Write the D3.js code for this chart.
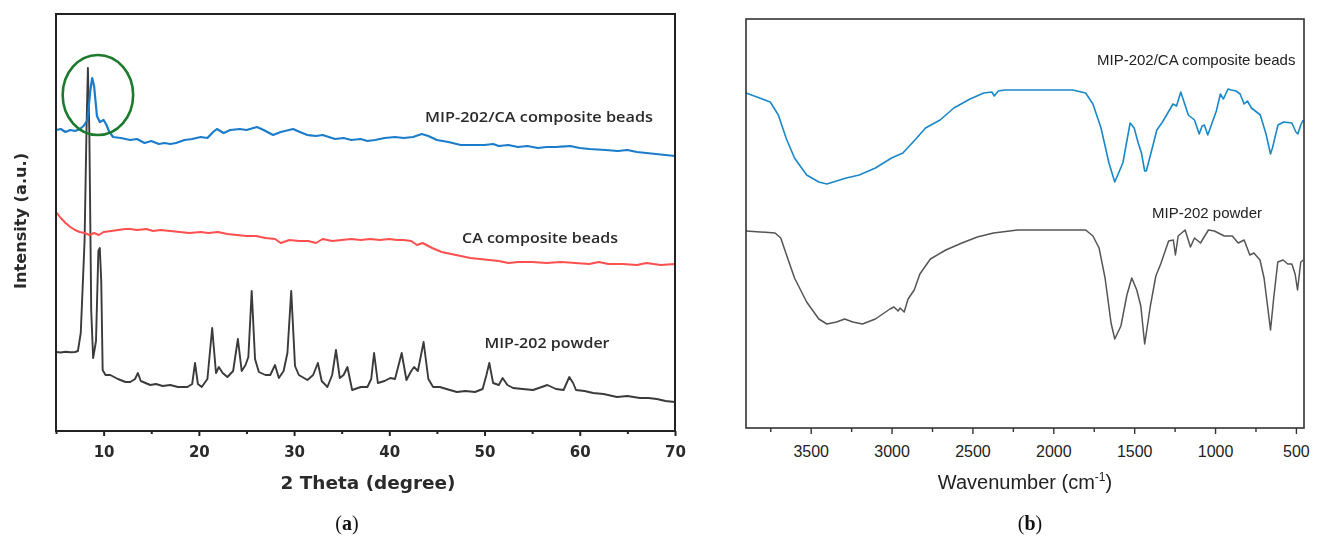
<!DOCTYPE html>
<html>
<head>
<meta charset="utf-8">
<script src="https://cdn.jsdelivr.net/npm/d3@7"></script>
<style>
  html, body { margin: 0; padding: 0; background: #fff; }
  svg { display: block; }
</style>
</head>
<body>
<div id="chart"></div>
<script>
// XRD (a): 2θ in degrees, intensity in arbitrary counts
const xrdComposite = [
  [5.0, 3010], [5.5, 3020], [6.0, 2990], [6.5, 3010], [7.0, 3000], [7.5, 3020], [7.9, 3050],
  [8.3, 3110], [8.6, 3400], [8.8, 3530], [9.0, 3450], [9.3, 3150], [9.6, 3090], [10.0, 3110],
  [10.3, 3060], [10.6, 2990], [11.0, 2940], [11.8, 2930], [12.8, 2910], [13.5, 2920], [14.3, 2880],
  [15.0, 2900], [15.8, 2870], [16.4, 2880], [17.0, 2870], [17.6, 2880], [18.5, 2910], [19.3, 2920],
  [20.2, 2940], [20.9, 2930], [21.5, 2990], [21.9, 3020], [22.6, 2980], [23.3, 3010], [24.3, 3020],
  [25.0, 3010], [26.1, 3040], [26.8, 3010], [27.8, 2960], [28.6, 2990], [29.9, 3020], [30.6, 2990],
  [31.4, 2960], [32.3, 2950], [33.0, 2960], [34.3, 2920], [35.2, 2930], [36.0, 2910], [37.0, 2920],
  [37.7, 2900], [38.5, 2910], [39.5, 2930], [40.6, 2940], [41.5, 2930], [42.5, 2940], [43.4, 2970],
  [44.1, 2950], [45.0, 2910], [46.2, 2890], [47.5, 2860], [49.0, 2860], [50.0, 2860], [50.9, 2870],
  [51.5, 2850], [52.5, 2860], [53.5, 2840], [54.5, 2850], [55.6, 2830], [56.5, 2840], [57.5, 2840],
  [59.0, 2850], [60.0, 2830], [61.0, 2820], [62.7, 2810], [64.0, 2800], [65.0, 2810], [66.0, 2790],
  [67.0, 2780], [68.0, 2770], [69.0, 2760], [70.0, 2750]
]
const xrdBeads = [
  [5.0, 2190], [5.5, 2130], [6.0, 2080], [6.5, 2040], [7.0, 2010], [7.5, 1990], [8.0, 1980],
  [8.5, 1960], [9.0, 1980], [9.5, 1960], [10.0, 1990], [10.8, 2000], [11.5, 2010], [12.3, 2020],
  [12.8, 2020], [13.5, 2010], [14.5, 2020], [15.2, 2000], [16.0, 2010], [17.0, 2000], [18.0, 1990],
  [19.0, 1980], [20.2, 1990], [21.0, 1980], [22.0, 1990], [23.0, 1970], [24.0, 1960], [25.0, 1950],
  [26.0, 1950], [27.0, 1930], [28.0, 1920], [28.6, 1880], [29.5, 1910], [30.5, 1900], [31.5, 1900],
  [32.3, 1880], [33.0, 1920], [34.0, 1900], [35.0, 1910], [36.0, 1920], [37.0, 1910], [38.0, 1920],
  [39.0, 1910], [40.0, 1920], [40.8, 1910], [41.5, 1910], [42.3, 1900], [42.9, 1860], [43.5, 1880],
  [44.5, 1830], [45.5, 1790], [46.5, 1770], [47.5, 1750], [48.5, 1730], [49.5, 1720], [50.5, 1710],
  [51.5, 1700], [52.5, 1680], [53.5, 1690], [55.0, 1690], [56.5, 1680], [58.0, 1690], [59.5, 1680],
  [61.0, 1670], [62.0, 1690], [63.0, 1670], [64.5, 1670], [66.0, 1660], [67.0, 1680], [68.5, 1660],
  [70.0, 1670]
]
const xrdPowder = [
  [5.0, 790], [5.5, 785], [6.0, 792], [6.5, 788], [7.0, 790], [7.3, 800], [7.6, 980], [8.0, 1900],
  [8.2, 3000], [8.35, 3630], [8.5, 3000], [8.7, 1200], [8.9, 730], [9.2, 900], [9.45, 1800],
  [9.6, 1830], [9.75, 1500], [9.9, 610], [10.2, 560], [10.7, 560], [11.5, 520], [12.3, 490],
  [12.8, 490], [13.3, 520], [13.6, 580], [13.9, 500], [14.9, 460], [15.5, 470], [16.2, 450],
  [17.0, 460], [17.8, 440], [18.8, 440], [19.3, 470], [19.6, 680], [19.9, 470], [20.3, 440],
  [20.9, 520], [21.4, 1030], [21.8, 580], [22.1, 640], [22.5, 580], [23.0, 540], [23.6, 600],
  [24.1, 920], [24.5, 600], [24.9, 660], [25.2, 740], [25.55, 1400], [25.9, 720], [26.3, 590],
  [27.0, 560], [27.5, 560], [28.0, 660], [28.4, 530], [28.9, 600], [29.3, 780], [29.7, 1400],
  [30.1, 650], [30.5, 560], [31.4, 510], [32.0, 560], [32.5, 680], [32.9, 500], [33.5, 440],
  [34.0, 560], [34.4, 810], [34.8, 530], [35.2, 560], [35.6, 640], [36.1, 410], [37.0, 440],
  [37.7, 440], [38.1, 520], [38.4, 780], [38.8, 480], [39.5, 500], [40.1, 530], [40.6, 520],
  [41.3, 780], [41.8, 510], [42.3, 600], [42.6, 640], [43.0, 600], [43.6, 890], [44.1, 520],
  [44.6, 440], [45.3, 440], [46.0, 420], [47.1, 390], [48.0, 400], [49.0, 390], [49.8, 420],
  [50.2, 560], [50.5, 680], [50.9, 480], [51.5, 460], [51.9, 530], [52.4, 460], [53.0, 430],
  [54.0, 420], [55.1, 410], [56.0, 440], [56.6, 460], [57.5, 420], [58.3, 410], [58.9, 540],
  [59.3, 480], [59.6, 410], [60.5, 400], [61.4, 380], [62.5, 370], [63.9, 340], [65.0, 350],
  [66.3, 330], [67.2, 330], [68.1, 320], [69.0, 300], [70.0, 290]
]
const xrdMajorTicks = [10, 20, 30, 40, 50, 60, 70]
const xrdMinorTicks = [5, 15, 25, 35, 45, 55, 65]
// zone circled in green (centre and radii in data units)
const xrdCircleCenter = [9.4, 3360]
const xrdCircleRadius = [3.7, 400]

// FTIR (b): wavenumber in cm-1, transmittance in arbitrary units
const ftirComposite = [
  [3900, 335], [3750, 326], [3700, 313], [3650, 289], [3600, 270], [3525, 253], [3450, 246],
  [3400, 244], [3340, 247], [3280, 250], [3200, 253], [3100, 260], [3000, 270], [2930, 275],
  [2850, 289], [2790, 300], [2700, 308], [2615, 320], [2515, 329], [2430, 335], [2380, 336],
  [2365, 332], [2340, 337], [2300, 338], [2100, 338], [1880, 338], [1800, 335], [1755, 324],
  [1705, 300], [1656, 265], [1620, 246], [1570, 265], [1525, 305], [1500, 300], [1475, 285],
  [1455, 275], [1435, 257], [1425, 257], [1385, 282], [1360, 298], [1325, 306], [1260, 324],
  [1238, 322], [1212, 336], [1165, 313], [1127, 308], [1098, 294], [1080, 302], [1066, 303],
  [1045, 293], [992, 317], [967, 334], [948, 329], [920, 339], [900, 338], [870, 337], [845, 334],
  [820, 324], [800, 327], [775, 320], [720, 313], [685, 294], [657, 274], [645, 280], [611, 303],
  [575, 306], [525, 305], [500, 296], [488, 294], [470, 303], [455, 308]
]
const ftirPowder = [
  [3900, 197], [3720, 195], [3685, 190], [3660, 178], [3600, 150], [3525, 126], [3450, 109],
  [3400, 104], [3340, 106], [3290, 109], [3240, 106], [3180, 104], [3100, 109], [3010, 119],
  [2985, 121], [2960, 117], [2947, 120], [2922, 116], [2898, 129], [2860, 138], [2825, 154],
  [2760, 169], [2665, 178], [2565, 185], [2470, 191], [2370, 195], [2220, 198], [1975, 198],
  [1800, 198], [1755, 192], [1717, 180], [1680, 150], [1643, 105], [1620, 89], [1582, 102],
  [1545, 133], [1515, 150], [1484, 138], [1459, 122], [1435, 84], [1400, 122], [1366, 152],
  [1336, 164], [1287, 187], [1258, 188], [1245, 173], [1228, 192], [1185, 198], [1152, 181],
  [1127, 190], [1090, 185], [1041, 198], [1004, 197], [943, 192], [893, 192], [857, 185],
  [820, 188], [785, 173], [760, 175], [722, 168], [697, 150], [670, 115], [657, 98], [638, 129],
  [612, 166], [580, 168], [550, 164], [525, 164], [505, 154], [490, 138], [470, 166], [455, 168]
]
const ftirMajorTicks = [3500, 3000, 2500, 2000, 1500, 1000, 500]
const ftirMinorTicks = [3750, 3250, 2750, 2250, 1750, 1250, 750]

// axe du bas: graduations principales avec texte et secondaires sans texte
function drawBottomAxis(parent, scale, y, major, minor, opt) {
  const gMinor = parent.append("g").attr("transform", "translate(0," + y + ")")
  gMinor.call(d3.axisBottom(scale).tickValues(minor).tickSize(opt.minorSize).tickFormat(""))
  const gMajor = parent.append("g").attr("transform", "translate(0," + y + ")")
  gMajor.call(d3.axisBottom(scale).tickValues(major).tickSize(opt.majorSize).tickFormat(d3.format("d")))

  ;[gMinor, gMajor].forEach((g) => {
    g.selectAll(".domain").remove()
    g.selectAll("line").attr("stroke", opt.color).attr("stroke-width", opt.width)
  })
  gMajor.selectAll("text")
    .attr("y", opt.labelOffset).attr("dy", "0.35em")
    .attr("fill", opt.textColor)
    .style("font", opt.font)
}

function drawChart() {
  const svg = d3.select("#chart")
    .append("svg")
    .attr("width", 1320)
    .attr("height", 547)
    .style("background", "#fff")

  // léger flou pour imiter la figure (a), issue d'une image basse résolution
  svg.append("defs")
    .append("filter")
    .attr("id", "soft")
    .append("feGaussianBlur")
    .attr("stdDeviation", 0.55)

  // ---------- (a) XRD ----------
  const xL = d3.scaleLinear().domain([5, 70]).range([56, 675])
  const yL = d3.scaleLinear().domain([0, 4170]).range([431, 14])
  const left = svg.append("g").attr("filter", "url(#soft)")

  const lineL = d3.line().x((d) => xL(d[0])).y((d) => yL(d[1]))

  left.append("path").datum(xrdPowder)
    .attr("d", lineL).attr("fill", "none")
    .attr("stroke", "#3a3a3a").attr("stroke-width", 1.9).attr("stroke-linejoin", "round")
  left.append("path").datum(xrdBeads)
    .attr("d", lineL).attr("fill", "none")
    .attr("stroke", "#ff4f4f").attr("stroke-width", 2).attr("stroke-linejoin", "round")
  left.append("path").datum(xrdComposite)
    .attr("d", lineL).attr("fill", "none")
    .attr("stroke", "#1c7ccc").attr("stroke-width", 2.2).attr("stroke-linejoin", "round")

  // ellipse verte
  left.append("ellipse")
    .attr("cx", xL(xrdCircleCenter[0]))
    .attr("cy", yL(xrdCircleCenter[1]))
    .attr("rx", xL(xrdCircleCenter[0] + xrdCircleRadius[0]) - xL(xrdCircleCenter[0]))
    .attr("ry", yL(xrdCircleCenter[1] - xrdCircleRadius[1]) - yL(xrdCircleCenter[1]))
    .attr("fill", "none").attr("stroke", "#1f7a2e").attr("stroke-width", 2.6)

  // cadre
  left.append("rect")
    .attr("x", 56).attr("y", 14).attr("width", 675 - 56).attr("height", 431 - 14)
    .attr("fill", "none").attr("stroke", "#222").attr("stroke-width", 2)

  drawBottomAxis(left, xL, 431, xrdMajorTicks, xrdMinorTicks, {
    majorSize: 5, minorSize: 3, color: "#222", width: 2,
    labelOffset: 21, textColor: "#2a2a2a", font: "bold 15px 'DejaVu Sans'",
  })

  left.append("text")
    .attr("x", 368).attr("y", 489)
    .attr("text-anchor", "middle")
    .attr("textLength", 175).attr("lengthAdjust", "spacingAndGlyphs")
    .attr("fill", "#2a2a2a")
    .style("font", "bold 18px 'DejaVu Sans'")
    .text("2 Theta (degree)")
  left.append("text")
    .attr("transform", "translate(26,221) rotate(-90)")
    .attr("text-anchor", "middle")
    .attr("textLength", 136).attr("lengthAdjust", "spacingAndGlyphs")
    .attr("fill", "#2a2a2a")
    .style("font", "bold 16px 'DejaVu Sans'")
    .text("Intensity (a.u.)")

  const labelsL = [
    { t: "MIP-202/CA composite beads", x: 539, y: 122, w: 228 },
    { t: "CA composite beads", x: 540, y: 243, w: 156 },
    { t: "MIP-202 powder", x: 547, y: 348, w: 125 },
  ]
  labelsL.forEach((l) => {
    left.append("text")
      .attr("x", l.x).attr("y", l.y)
      .attr("text-anchor", "middle")
      .attr("textLength", l.w).attr("lengthAdjust", "spacingAndGlyphs")
      .attr("fill", "#2a2a2a")
      .style("font", "600 14px 'Open Sans'")
      .text(l.t)
  })

  // ---------- (b) FTIR ----------
  const xR = d3.scaleLinear().domain([3900, 450]).range([746, 1304])
  const yR = d3.scaleLinear().domain([0, 409]).range([428, 19])
  const right = svg.append("g")
  const lineR = d3.line().x((d) => xR(d[0])).y((d) => yR(d[1]))

  right.append("path").datum(ftirPowder)
    .attr("d", lineR).attr("fill", "none")
    .attr("stroke", "#555").attr("stroke-width", 1.5).attr("stroke-linejoin", "round")
  right.append("path").datum(ftirComposite)
    .attr("d", lineR).attr("fill", "none")
    .attr("stroke", "#1a88c8").attr("stroke-width", 1.6).attr("stroke-linejoin", "round")

  right.append("rect")
    .attr("x", 746).attr("y", 19).attr("width", 1304 - 746).attr("height", 428 - 19)
    .attr("fill", "none").attr("stroke", "#333").attr("stroke-width", 1.6)

  drawBottomAxis(right, xR, 428, ftirMajorTicks, ftirMinorTicks, {
    majorSize: 6, minorSize: 4, color: "#333", width: 1.4,
    labelOffset: 23, textColor: "#222", font: "16px 'Liberation Sans'",
  })

  const title = right.append("text")
    .attr("x", 1025).attr("y", 489)
    .attr("text-anchor", "middle")
    .attr("fill", "#222")
    .style("font", "20px 'Liberation Sans'")
  title.append("tspan").text("Wavenumber (cm")
  title.append("tspan").attr("dy", -8).style("font-size", "12px").text("-1")
  title.append("tspan").attr("dy", 8).text(")")

  right.append("text")
    .attr("x", 1097).attr("y", 65)
    .attr("fill", "#222")
    .style("font", "15px 'Liberation Sans'")
    .text("MIP-202/CA composite beads")
  right.append("text")
    .attr("x", 1152).attr("y", 218)
    .attr("fill", "#222")
    .style("font", "15px 'Liberation Sans'")
    .text("MIP-202 powder")

  // ---------- légendes (a) et (b) ----------
  const captions = [
    { t: "a", x: 347 },
    { t: "b", x: 1030 },
  ]
  captions.forEach((c) => {
    const txt = svg.append("text")
      .attr("x", c.x).attr("y", 530)
      .attr("text-anchor", "middle")
      .attr("fill", "#111")
      .style("font", "20px 'Liberation Serif'")
    txt.append("tspan").text("(")
    txt.append("tspan").style("font-weight", "bold").text(c.t)
    txt.append("tspan").text(")")
  })
}

drawChart()
</script>
</body>
</html>
